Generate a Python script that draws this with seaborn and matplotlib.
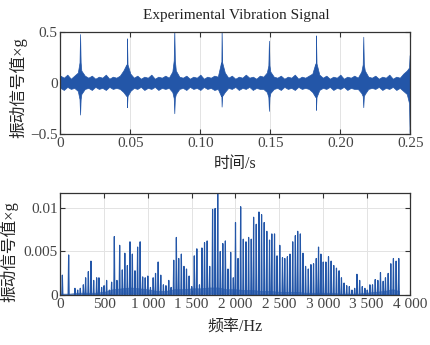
import numpy as np
import pandas as pd
import seaborn as sns
import matplotlib
matplotlib.use("Agg")
import matplotlib.pyplot as plt

# ---------------- data ----------------
# time-domain envelope sampled every 2.5 ms (upper / lower edge of the noise band)
env_time = [round(0.0025 * k, 4) for k in range(101)]
env_upper = [0.07, 0.05, 0.08, 0.04, 0.07, 0.10, 0.12, 0.07, 0.05, 0.07,
             0.04, 0.06, 0.05, 0.08, 0.04, 0.06, 0.05, 0.07, 0.12, 0.10,
             0.09, 0.05, 0.07, 0.04, 0.06, 0.05, 0.08, 0.04, 0.06, 0.05,
             0.07, 0.05, 0.11, 0.12, 0.06, 0.05, 0.07, 0.04, 0.06, 0.05,
             0.08, 0.04, 0.06, 0.05, 0.07, 0.06, 0.12, 0.10, 0.05, 0.07,
             0.04, 0.06, 0.05, 0.08, 0.05, 0.06, 0.04, 0.07, 0.06, 0.10,
             0.11, 0.06, 0.05, 0.07, 0.04, 0.06, 0.05, 0.08, 0.04, 0.06,
             0.05, 0.07, 0.09, 0.12, 0.08, 0.05, 0.07, 0.04, 0.06, 0.05,
             0.08, 0.04, 0.06, 0.05, 0.07, 0.05, 0.11, 0.12, 0.06, 0.05,
             0.07, 0.04, 0.06, 0.05, 0.08, 0.04, 0.06, 0.05, 0.09, 0.12,
             0.10]
env_lower = [-0.05, -0.07, -0.04, -0.06, -0.05, -0.08, -0.11, -0.06, -0.05, -0.07,
             -0.04, -0.06, -0.05, -0.07, -0.04, -0.06, -0.05, -0.06, -0.09, -0.11,
             -0.08, -0.05, -0.06, -0.04, -0.07, -0.05, -0.06, -0.04, -0.07, -0.05,
             -0.06, -0.05, -0.09, -0.11, -0.06, -0.05, -0.07, -0.04, -0.06, -0.05,
             -0.07, -0.04, -0.06, -0.05, -0.07, -0.06, -0.10, -0.09, -0.05, -0.06,
             -0.04, -0.07, -0.05, -0.06, -0.04, -0.07, -0.05, -0.06, -0.06, -0.09,
             -0.10, -0.06, -0.05, -0.07, -0.04, -0.06, -0.05, -0.07, -0.04, -0.06,
             -0.05, -0.06, -0.09, -0.11, -0.07, -0.05, -0.06, -0.04, -0.07, -0.05,
             -0.06, -0.04, -0.07, -0.05, -0.06, -0.06, -0.10, -0.11, -0.06, -0.05,
             -0.06, -0.04, -0.07, -0.05, -0.06, -0.04, -0.07, -0.05, -0.08, -0.11,
             -0.20]
# impact impulses
imp_time = [0.0141, 0.0476, 0.0814, 0.1152, 0.1490, 0.1826, 0.2164, 0.2495]
imp_pos = [0.477, 0.435, 0.52, 0.52, 0.412, 0.464, 0.451, 0.27]
imp_neg = [-0.311, -0.239, -0.298, -0.233, -0.275, -0.265, -0.239, -0.49]
imp_shoulder_pos = [0.20, 0.18, 0.22, 0.20, 0.17, 0.19, 0.18, 0.15]
imp_shoulder_neg = [-0.16, -0.13, -0.15, -0.13, -0.14, -0.14, -0.13, -0.20]

# spectrum: harmonic lines
spec_freq = [23, 95, 167, 198, 228, 263, 289, 320, 350, 381, 415, 441, 472, 500, 529,
             560, 586, 617, 647, 678, 708, 737, 766, 796, 823, 853, 883, 912, 941, 970,
             1000, 1030, 1061, 1088, 1118, 1148, 1178, 1207, 1239, 1266, 1296, 1326,
             1353, 1383, 1413, 1442, 1472, 1502, 1531, 1560, 1590, 1618, 1648, 1678,
             1707, 1740, 1769, 1799, 1828, 1857, 1886, 1916, 1947, 1977, 2002, 2031,
             2061, 2091, 2122, 2152, 2182, 2209, 2239, 2270, 2300, 2330, 2360, 2391,
             2417, 2448, 2477, 2508, 2539, 2565, 2595, 2625, 2656, 2686, 2713, 2743,
             2773, 2803, 2834, 2864, 2894, 2925, 2951, 2978, 3005, 3035, 3065, 3095,
             3125, 3156, 3186, 3213, 3243, 3273, 3303, 3333, 3364, 3390, 3421, 3451,
             3481, 3508, 3538, 3568, 3599, 3629, 3659, 3690, 3716, 3747, 3777, 3807,
             3838, 3868]
spec_amp = [0.0023, 0.0046, 0.0008, 0.0006, 0.0008, 0.0012, 0.0020, 0.0027, 0.0039,
            0.0017, 0.0020, 0.0020, 0.0009, 0.0011, 0.0017, 0.0006, 0.0015, 0.0067,
            0.0017, 0.0057, 0.0029, 0.0048, 0.0034, 0.0061, 0.0047, 0.0028, 0.0055,
            0.0061, 0.0021, 0.0020, 0.0022, 0.0009, 0.0020, 0.0025, 0.0038, 0.0023,
            0.0012, 0.0011, 0.0017, 0.0009, 0.0040, 0.0066, 0.0042, 0.0047, 0.0033,
            0.0030, 0.0022, 0.0010, 0.0045, 0.0053, 0.0012, 0.0054, 0.0060, 0.0062,
            0.0033, 0.0098, 0.0099, 0.0117, 0.0050, 0.0059, 0.0062, 0.0030, 0.0049,
            0.0020, 0.0083, 0.0042, 0.0101, 0.0064, 0.0061, 0.0066, 0.0064, 0.0089,
            0.0081, 0.0095, 0.0092, 0.0083, 0.0073, 0.0063, 0.0070, 0.0070, 0.0045,
            0.0057, 0.0043, 0.0042, 0.0044, 0.0047, 0.0061, 0.0068, 0.0073, 0.0070,
            0.0048, 0.0033, 0.0030, 0.0035, 0.0036, 0.0042, 0.0055, 0.0047, 0.0038,
            0.0038, 0.0044, 0.0039, 0.0034, 0.0031, 0.0028, 0.0020, 0.0014, 0.0011,
            0.0010, 0.0006, 0.0008, 0.0024, 0.0017, 0.0010, 0.0008, 0.0006, 0.0012,
            0.0012, 0.0018, 0.0017, 0.0026, 0.0016, 0.0020, 0.0025, 0.0036, 0.0042,
            0.0039, 0.0042]
# spectrum noise floor (band edges), every 100 Hz
floor_freq = [0, 100, 200, 300, 400, 500, 600, 700, 800, 900, 1000, 1100, 1200, 1300,
              1400, 1500, 1600, 1700, 1800, 1900, 2000, 2100, 2200, 2300, 2400, 2500,
              2600, 2700, 2800, 2900, 3000, 3100, 3200, 3300, 3400, 3500, 3600, 3700,
              3800, 3870]
floor_hi = [0.0002, 0.0002, 0.0003, 0.0003, 0.0003, 0.0004, 0.0007, 0.0008, 0.0009,
            0.0008, 0.0007, 0.0005, 0.0005, 0.0007, 0.0007, 0.0008, 0.0008, 0.0009,
            0.0009, 0.0007, 0.0007, 0.0006, 0.0006, 0.0005, 0.0005, 0.0004, 0.0004,
            0.0004, 0.0003, 0.0003, 0.0003, 0.0003, 0.0002, 0.0002, 0.0002, 0.0003,
            0.0004, 0.0005, 0.0007, 0.0005]
floor_lo = [0.0000, 0.0000, 0.0000, 0.0001, 0.0001, 0.0001, 0.0001, 0.0002, 0.0002,
            0.0002, 0.0001, 0.0001, 0.0001, 0.0002, 0.0002, 0.0002, 0.0002, 0.0002,
            0.0002, 0.0002, 0.0002, 0.0001, 0.0001, 0.0001, 0.0001, 0.0001, 0.0001,
            0.0001, 0.0001, 0.0001, 0.0001, 0.0001, 0.0000, 0.0000, 0.0000, 0.0000,
            0.0001, 0.0001, 0.0001, 0.0001]

# ---------------- style ----------------
sns.set_style("ticks")
plt.rcParams["font.family"] = ["Liberation Serif", "Noto Sans CJK SC"]
plt.rcParams["axes.unicode_minus"] = True
BLUE = "#2356a8"
CJK = ["Liberation Serif", "Noto Sans CJK SC"]

fig = plt.figure(figsize=(4.31, 3.45), dpi=100)
ax1 = fig.add_axes([0.140, 0.612, 0.812, 0.296])
ax2 = fig.add_axes([0.140, 0.144, 0.812, 0.2975])

# ---------------- top: vibration signal ----------------
IMP_W = 0.0004
rows_t, rows_v = [], []
for t, u, l in zip(env_time, env_upper, env_lower):
    rows_t += [t, t]; rows_v += [u, l]
for t, p, n, sp, sn in zip(imp_time, imp_pos, imp_neg, imp_shoulder_pos, imp_shoulder_neg):
    rows_t += [t, t, t - IMP_W, t - IMP_W, t + IMP_W, t + IMP_W]
    rows_v += [p, n, sp, sn, sp, sn]
sig = pd.DataFrame({"t": rows_t, "v": rows_v})
sns.lineplot(data=sig, x="t", y="v", ax=ax1, color=BLUE, linewidth=0,
             errorbar=lambda v: (v.min(), v.max()),
             err_kws={"alpha": 1, "linewidth": 0.5, "edgecolor": BLUE})

ax1.set_xlim(0, 0.25)
ax1.set_ylim(-0.5, 0.5)
ax1.set_xticks([0, 0.05, 0.10, 0.15, 0.20, 0.25])
ax1.set_xticklabels(["0", "0.05", "0.10", "0.15", "0.20", "0.25"])
ax1.set_yticks([-0.5, 0, 0.5])
ax1.set_yticklabels(["\u22120.5", "0", "0.5"])
ax1.set_xlabel("时间/s", fontsize=11.5, family=CJK)
ax1.set_ylabel("振动信号值×g", fontsize=12, family=CJK)
ax1.xaxis.set_label_coords(0.50, -0.215)
ax1.yaxis.set_label_coords(-0.094, 0.45)
fig.text(236.7 / 431, 1 - 15 / 345, "Experimental Vibration Signal",
         ha="center", va="center", fontsize=11, family="Liberation Serif", color="#222222")

# ---------------- bottom: spectrum ----------------
fl = pd.DataFrame({"f": floor_freq + floor_freq, "a": floor_hi + floor_lo})
sns.lineplot(data=fl, x="f", y="a", ax=ax2, color=BLUE, linewidth=0,
             errorbar=lambda v: (v.min(), v.max()),
             err_kws={"alpha": 0.6, "linewidth": 0.5, "edgecolor": BLUE})
SPK_W = 6
sx, sy = [], []
for f, a in zip(spec_freq, spec_amp):
    sx += [f - SPK_W, f, f + SPK_W]
    sy += [0, a, 0]
spk = pd.DataFrame({"f": sx, "a": sy})
sns.lineplot(data=spk, x="f", y="a", ax=ax2, color=BLUE, linewidth=0.85,
             sort=False, estimator=None)

ax2.set_xlim(0, 4000)
ax2.set_ylim(0, 0.0117)
ax2.set_xticks([0, 500, 1000, 1500, 2000, 2500, 3000, 3500, 4000])
ax2.set_xticklabels(["0", "500", "1 000", "1 500", "2 000", "2 500", "3 000", "3 500", "4 000"])
ax2.set_yticks([0, 0.005, 0.01])
ax2.set_yticklabels(["0", "0.005", "0.01"])
ax2.set_xlabel("频率/Hz", fontsize=11.5, family=CJK)
ax2.set_ylabel("振动信号值×g", fontsize=12, family=CJK)
ax2.xaxis.set_label_coords(0.50, -0.23)
ax2.yaxis.set_label_coords(-0.12, 0.425)

for ax in (ax1, ax2):
    ax.grid(True, color="#e3e3e3", linewidth=0.7)
    ax.set_axisbelow(True)
    ax.tick_params(direction="in", top=True, right=True, length=3.5, width=0.8,
                   labelsize=11, colors="#333333", labelcolor="#444444", pad=2)
    for s in ax.spines.values():
        s.set_visible(True)
        s.set_color("#333333")
        s.set_linewidth(0.9)

fig.savefig("out.png", dpi=100)
